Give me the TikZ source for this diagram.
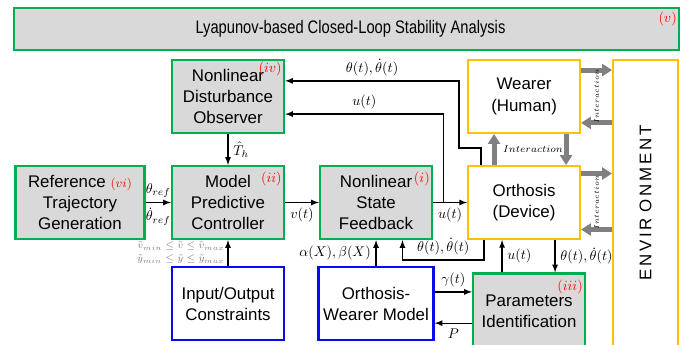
\documentclass[tikz,border=0pt]{standalone}
\usepackage{amsmath,amssymb}
\usepackage{fontspec}
\setmainfont{Liberation Sans}
\usepackage{tikz}
\usetikzlibrary{arrows,arrows.meta,positioning,calc}
\definecolor{ctrlgreen}{RGB}{0,176,80}
\definecolor{ctrlfill}{RGB}{217,217,217}
\definecolor{devyellow}{RGB}{255,192,0}
\definecolor{consblue}{RGB}{10,10,235}
\definecolor{intgray}{RGB}{128,128,128}
\tikzstyle{ctrl} = [rectangle, draw=ctrlgreen, line width=1.6pt, fill=ctrlfill, align=center, minimum width=2.8cm, minimum height=1.825cm, font=\fontsize{12}{15}\selectfont]
\tikzstyle{device} = [rectangle, draw=devyellow, line width=1.4pt, fill=white, align=center, minimum width=2.8cm, minimum height=1.825cm, font=\fontsize{12}{15}\selectfont]
\tikzstyle{cons} = [rectangle, draw=consblue, line width=1.6pt, fill=white, align=center, minimum width=2.8cm, minimum height=1.825cm, font=\fontsize{12}{15}\selectfont]
\tikzstyle{tag} = [text=red, anchor=north east, inner sep=2pt]
\tikzstyle{cnst} = [text=gray, align=right, inner sep=2pt, font=\fontsize{7.2}{9.2}\selectfont]
\tikzstyle{inter} = [draw=intgray, line width=3.5pt, -{Triangle[length=7pt,width=8.5pt]}]
\tikzstyle{itext} = [font=\fontsize{7.3}{8}\selectfont]
\tikzstyle{vtext} = [rotate=90, font=\fontsize{5.3}{6}\selectfont]

\begin{document}
\begin{tikzpicture}[x=0.025cm, y=-0.025cm, auto, node distance=3.7cm, >=latex, line width=0.9pt]
    \useasboundingbox (0,0) rectangle (691,344);
    \node[ctrl, minimum width=16.625cm, minimum height=1.05cm] (lyap) at (346.5,29) {\hspace{0.2cm}\scalebox{0.81}[1]{\fontsize{12.9}{15}\selectfont Lyapunov-based Closed-Loop Stability Analysis}};
    \node[ctrl] (mpc) at (228,202.5) {Model\\Predictive\\Controller};
    \node[ctrl, minimum width=3.225cm, left of=mpc] (traj) {Reference {\color{red}\fontsize{9}{10}\selectfont$(vi)$}\\Trajectory\\Generation};
    \node[ctrl, right of=mpc] (nsf) {Nonlinear\\State\\Feedback};
    \node[device, right of=nsf] (orth) {Orthosis\\(Device)};
    \node[ctrl, above of=mpc, node distance=2.65cm] (ndo) {Nonlinear\\Disturbance\\Observer};
    \node[device, above of=orth, node distance=2.65cm] (wearer) {Wearer\\(Human)};
    \node[cons, below of=mpc, node distance=2.525cm] (iocons) {Input/Output\\Constraints};
    \node[cons, below of=nsf, node distance=2.525cm] (owm) {Orthosis-\\Wearer Model};
    \node[ctrl, below of=orth, node distance=2.7125cm, xshift=0.125cm, minimum height=1.875cm] (pid) {Parameters\\Identification};
    \node[device, minimum width=1.625cm, minimum height=7.15cm] (env) at (645.5,203) {\rotatebox{90}{E\,N\,V\,I\,R\hspace{4pt}O\,N\,M\,E\,N\,T}};

    % block tags
    \node[tag] at ([yshift=-0.05cm]lyap.north east) {$(v)$};
    \node[tag] at (ndo.north east) {$(iv)$};
    \node[tag] at ([yshift=-0.1cm]mpc.north east) {$(ii)$};
    \node[tag] at ([yshift=-0.1cm]nsf.north east) {$(i)$};
    \node[tag] at ([yshift=-0.1cm]pid.north east) {$(iii)$};

    % forward path
    \draw[->] (traj) -- node[above]{$\theta_{ref}$} node[below]{$\dot{\theta}_{ref}$} (mpc);
    \draw[->] (mpc) -- node[below]{$v(t)$} (nsf);
    \draw[->] (nsf) -- node[below]{$u(t)$} (orth);
    \draw[->] (ndo) -- node[right]{$\hat{T}_h$} (mpc);
    \draw[->] (iocons) -- node[left, cnst]{$\tilde{v}_{min}\le\tilde{v}\le\tilde{v}_{max}$\\$\tilde{y}_{min}\le\tilde{y}\le\tilde{y}_{max}$} (mpc);

    % observer inputs
    \draw[->] ([xshift=0.26cm]nsf.east) |- node[pos=0.75, above]{$u(t)$} ([yshift=-0.44cm]ndo.east);
    \draw[->] ([xshift=-1.075cm]orth.north) |- ++(-22,-17) |- node[pos=0.75, above]{$\theta(t),\dot{\theta}(t)$} ([yshift=0.39cm]ndo.east);

    % state feedback
    \draw[->] ([xshift=-1cm]orth.south) -- ++(0,20) -| node[pos=0.25, above]{$\theta(t),\dot{\theta}(t)$} ([xshift=0.66cm]nsf.south);
    \draw[->] (owm) -- node[left]{$\alpha(X),\beta(X)$} (nsf);

    % identification
    \draw[->] ([yshift=0.29cm]owm.east) -- node[above]{$\gamma(t)$} ([yshift=0.29cm]owm.east -| pid.west);
    \draw[->] ([yshift=-0.49cm]owm.east -| pid.west) -- node[below]{$P$} ([yshift=-0.49cm]owm.east);
    \draw[->] ([xshift=-0.675cm]pid.north) -- node[right]{$u(t)$} ([xshift=-0.675cm]pid.north |- orth.south);
    \draw[->] ([xshift=0.775cm]orth.south) -- node[right]{$\theta(t),\dot{\theta}(t)$} ([xshift=0.775cm]orth.south |- pid.north);

    % interaction
    \draw[inter] ([xshift=-0.75cm]orth.north) -- node[right, itext, xshift=0.05cm]{$Interaction$} ([xshift=-0.75cm]orth.north |- wearer.south);
    \draw[inter] ([xshift=1.05cm]wearer.south) -- ([xshift=1.05cm]wearer.south |- orth.north);
    \draw[inter] ([yshift=0.66cm]wearer.east) -- ([yshift=0.66cm]wearer.east -| env.west);
    \draw[inter] ([yshift=-0.66cm]wearer.east -| env.west) -- ([yshift=-0.66cm]wearer.east);
    \draw[inter] ([yshift=0.725cm]orth.east) -- ([yshift=0.725cm]orth.east -| env.west);
    \draw[inter] ([yshift=-0.675cm]orth.east -| env.west) -- ([yshift=-0.675cm]orth.east);
    \node[vtext] at ($(wearer.east)!0.5!(wearer.east -| env.west)$) {$Interaction$};
    \node[vtext] at ($(orth.east)!0.5!(orth.east -| env.west)$) {$Interaction$};
\end{tikzpicture}
\end{document}
